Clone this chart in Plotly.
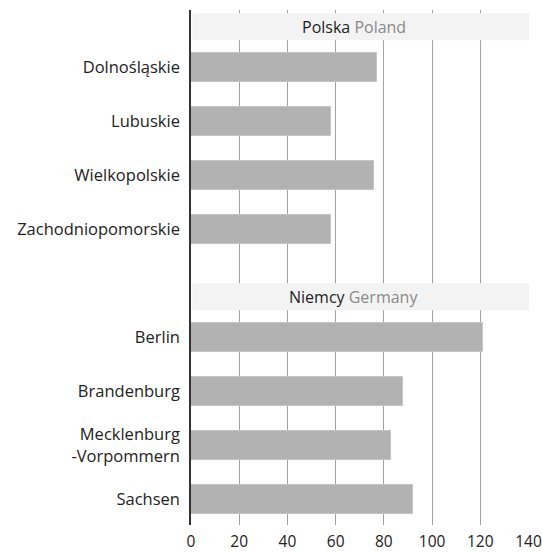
import plotly.graph_objects as go

# regions grouped by country
poland_regions = ["Dolnośląskie", "Lubuskie", "Wielkopolskie", "Zachodniopomorskie"]
poland_values = [77, 58, 76, 58]
germany_regions = ["Berlin", "Brandenburg", "Mecklenburg<br>-Vorpommern", "Sachsen"]
germany_values = [121, 88, 83, 92]
x_ticks = [0, 20, 40, 60, 80, 100, 120, 140]

FONT = "Open Sans"
BAR = "#b1b2b1"

# slot positions: header at 0 and 5, bars below
pl_pos = [1, 2, 3, 4]
de_pos = [6, 7, 8, 9]

fig = go.Figure()
fig.add_trace(go.Bar(
    y=pl_pos + de_pos,
    x=poland_values + germany_values,
    orientation="h",
    width=0.54,
    marker=dict(color=BAR, line=dict(color="#c4c5c4", width=1)),
    hoverinfo="x",
))

for start, pl_name, en_name in [(0, "Polska", "Poland"), (5, "Niemcy", "Germany")]:
    fig.add_shape(type="rect", xref="paper", yref="y", x0=0.004, x1=1,
                  y0=start, y1=start + 0.5, fillcolor="#f3f3f3",
                  line=dict(width=0), layer="above")
    fig.add_annotation(x=67.5, y=start + 0.25, xref="x", yref="y",
                       text=f"<span style='color:#222'>{pl_name}</span> "
                            f"<span style='color:#8a8a8a'>{en_name}</span>",
                       showarrow=False, font=dict(family=FONT, size=16))

fig.update_layout(
    width=542, height=553,
    margin=dict(l=191, r=13, t=10, b=28),
    paper_bgcolor="white", plot_bgcolor="white",
    showlegend=False,
    font=dict(family=FONT, size=16, color="#222"),
    bargap=0,
)
fig.update_xaxes(
    range=[0, 140.2], tickvals=x_ticks, showgrid=True, gridcolor="#a3a3a3",
    gridwidth=1, zeroline=False, showline=False, ticks="", automargin=False,
    ticklabeloverflow="allow", ticklabelstandoff=5,
    tickfont=dict(family=FONT, size=15.5, color="#222"),
)
fig.update_yaxes(
    range=[9.48, -0.06], tickvals=pl_pos + de_pos,
    ticktext=poland_regions + germany_regions,
    showgrid=False, zeroline=False, showline=True, linecolor="#333",
    linewidth=1.5, ticks="", ticklabelstandoff=6, automargin=False,
    tickfont=dict(family=FONT, size=16.5, color="#222"),
)

# page body has a default margin; drop it so the figure sits at the corner
fig.write_html("out.html", config={"displayModeBar": False},
               post_script="document.body.style.margin='0';")
